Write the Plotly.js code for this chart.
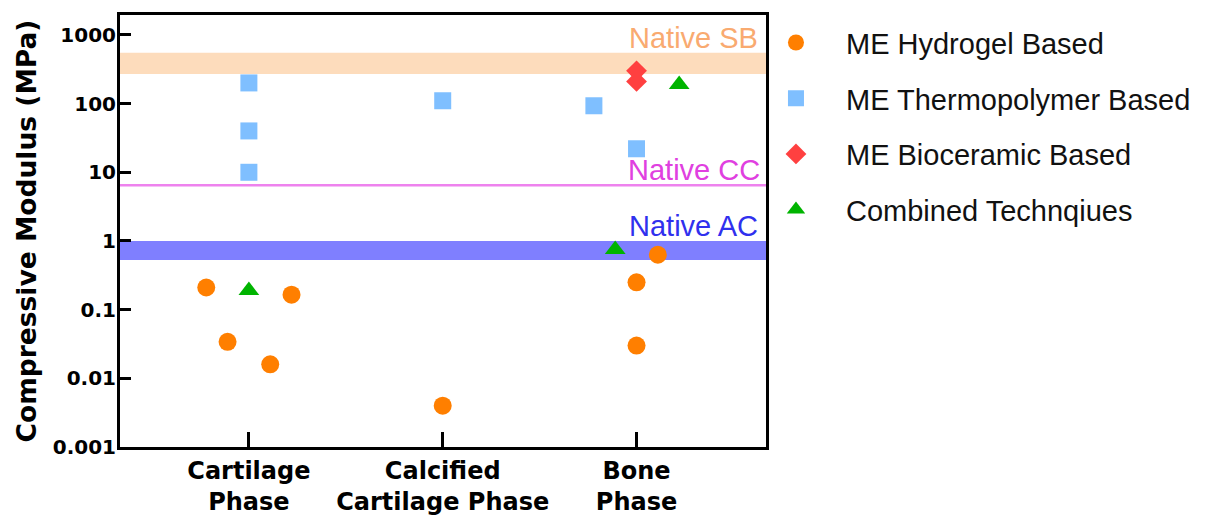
<!DOCTYPE html>
<html>
<head>
<meta charset="utf-8">
<script src="https://cdn.plot.ly/plotly-3.0.1.min.js"></script>
<style>html,body{margin:0;padding:0;background:#fff;}#chart{width:1214px;height:521px;}</style>
</head>
<body>
<div id="chart"></div>
<script>
// Categories (x axis)
const categories = ['Cartilage<br>Phase', 'Calcified<br>Cartilage Phase', 'Bone<br>Phase'];
const yTickVals = [0.001, 0.01, 0.1, 1, 10, 100, 1000];
const yTickText = ['0.001', '0.01', '0.1', '1', '10', '100', '1000'];

// ME Hydrogel Based
const hydrogelCat = [0, 0, 0, 0, 1, 2, 2, 2];
const hydrogelJitter = [-0.22, -0.11, 0.11, 0.22, 0, 0, 0, 0.11];
const hydrogelVal = [0.21, 0.034, 0.016, 0.165, 0.004, 0.25, 0.03, 0.63];

// ME Thermopolymer Based
const thermoCat = [0, 0, 0, 1, 2, 2];
const thermoJitter = [0, 0, 0, 0, -0.22, 0];
const thermoVal = [200, 40, 10, 110, 93, 22];

// ME Bioceramic Based
const bioceramicCat = [2, 2];
const bioceramicJitter = [0, 0];
const bioceramicVal = [300, 210];

// Combined Techniques
const combinedCat = [0, 2, 2];
const combinedJitter = [0, -0.11, 0.22];
const combinedVal = [0.19, 0.75, 190];

// Native tissue reference ranges (MPa)
const nativeSB = [270, 550];
const nativeCC = 6.5;
const nativeAC = [0.53, 1.0];

const xPos = (cats, jit) => cats.map((c, i) => c + jit[i]);

const boldFont = 'DejaVu Sans, Verdana, sans-serif';
const regFont = 'Liberation Sans, Arial, sans-serif';

const traces = [
  {name: 'ME Hydrogel Based', x: xPos(hydrogelCat, hydrogelJitter), y: hydrogelVal,
   mode: 'markers', type: 'scatter', legendgroup: 'a',
   marker: {symbol: 'circle', size: 18, color: '#FF7F00'}},
  {name: 'ME Thermopolymer Based', x: xPos(thermoCat, thermoJitter), y: thermoVal,
   mode: 'markers', type: 'scatter', legendgroup: 'b',
   marker: {symbol: 'square', size: 17, color: '#7FBFFF'}},
  {name: 'ME Bioceramic Based', x: xPos(bioceramicCat, bioceramicJitter), y: bioceramicVal,
   mode: 'markers', type: 'scatter', legendgroup: 'c',
   marker: {symbol: 'diamond', size: 16, color: '#FF4040'}},
  {name: 'Combined Technqiues', x: xPos(combinedCat, combinedJitter), y: combinedVal,
   mode: 'markers', type: 'scatter', legendgroup: 'd',
   marker: {symbol: 'triangle-up', size: 18, color: '#00B400'}}
];

const shapes = [
  {type: 'rect', xref: 'paper', yref: 'y', x0: 0, x1: 1, y0: nativeSB[0], y1: nativeSB[1],
   fillcolor: '#FDDCBC', line: {width: 0}, layer: 'below'},
  {type: 'line', xref: 'paper', yref: 'y', x0: 0, x1: 1, y0: nativeCC, y1: nativeCC,
   line: {color: '#EE82EE', width: 2.5}, layer: 'below'},
  {type: 'rect', xref: 'paper', yref: 'y', x0: 0, x1: 1, y0: nativeAC[0], y1: nativeAC[1],
   fillcolor: '#7F7FFF', line: {width: 0}, layer: 'below'}
];

const annotations = [
  {text: 'Native SB', xref: 'paper', yref: 'y', x: 1, y: Math.log10(nativeSB[1]), xanchor: 'right', yanchor: 'bottom',
   xshift: -6, yshift: -3, showarrow: false, font: {family: regFont, size: 29, color: '#F9AA70'}},
  {text: 'Native CC', xref: 'paper', yref: 'y', x: 1, y: Math.log10(nativeCC), xanchor: 'right', yanchor: 'bottom',
   xshift: -4, yshift: -3, showarrow: false, font: {family: regFont, size: 29, color: '#E040E0'}},
  {text: 'Native AC', xref: 'paper', yref: 'y', x: 1, y: Math.log10(nativeAC[1]), xanchor: 'right', yanchor: 'bottom',
   xshift: -6, yshift: -3, showarrow: false, font: {family: regFont, size: 29, color: '#3030EE'}}
];

const layout = {
  width: 1214, height: 521,
  margin: {l: 120, r: 448, t: 15, b: 74},
  paper_bgcolor: '#fff', plot_bgcolor: '#fff',
  showlegend: true,
  legend: {x: 0.969, xanchor: 'left', y: 0.995, yanchor: 'top', traceorder: 'grouped', tracegroupgap: 15,
           itemwidth: 90, font: {family: regFont, size: 29, color: '#111'}, bgcolor: 'rgba(0,0,0,0)'},
  xaxis: {range: [-0.665, 2.668], tickmode: 'array', tickvals: [0, 1, 2], ticktext: categories,
          showgrid: false, zeroline: false, showline: true, mirror: true, linecolor: '#000', linewidth: 3,
          ticks: 'inside', ticklen: 15, tickwidth: 3, tickcolor: '#000',
          tickfont: {family: boldFont, size: 24, color: '#000', weight: 'bold'}, fixedrange: true},
  yaxis: {type: 'log', range: [-3, 3.29], tickmode: 'array', tickvals: yTickVals, ticktext: yTickText,
          showgrid: false, zeroline: false, showline: true, mirror: true, linecolor: '#000', linewidth: 3,
          ticks: 'inside', ticklen: 11, tickwidth: 3, tickcolor: '#000', ticklabelstandoff: -3,
          tickfont: {family: boldFont, size: 20, color: '#000', weight: 'bold'},
          title: {text: 'Compressive Modulus (MPa)', standoff: 9,
                  font: {family: boldFont, size: 26.5, color: '#000', weight: 'bold'}}, fixedrange: true},
  shapes: shapes,
  annotations: annotations
};

Plotly.newPlot('chart', traces, layout, {displayModeBar: false, staticPlot: true});
</script>
</body>
</html>
